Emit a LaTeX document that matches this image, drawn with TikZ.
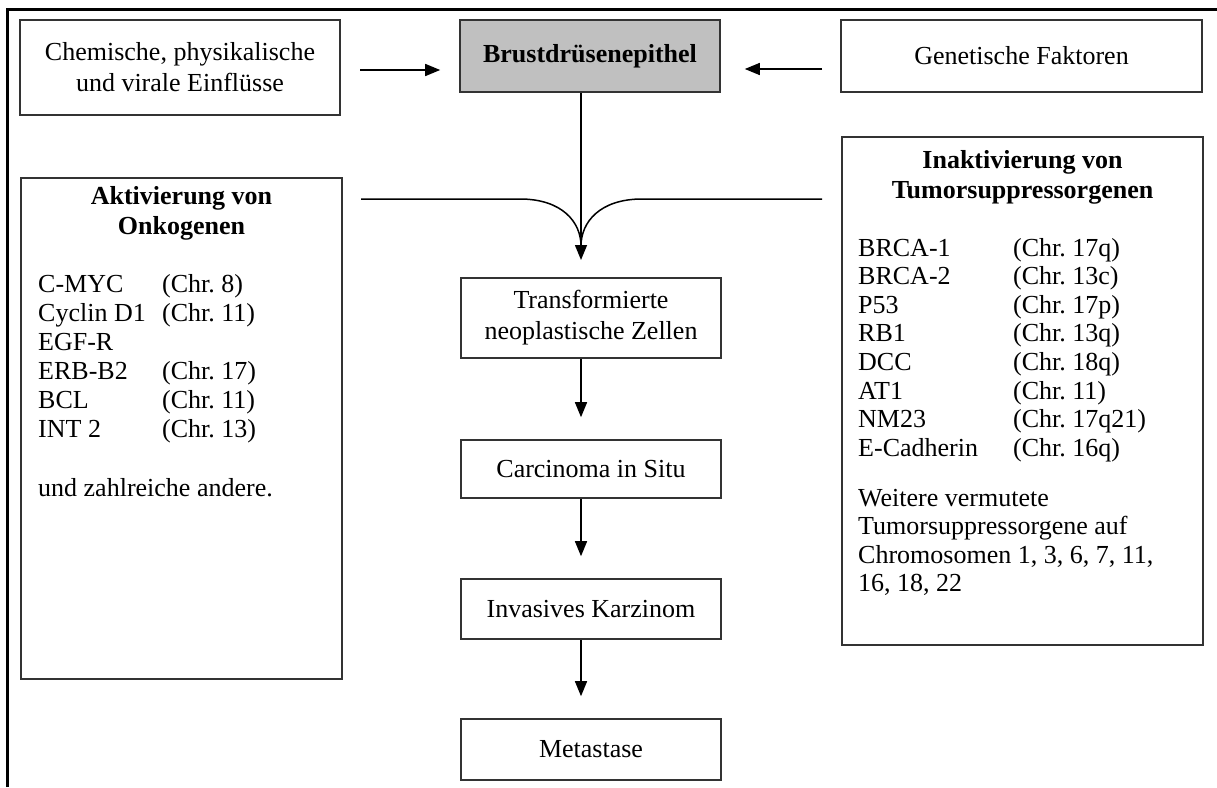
\documentclass[tikz,border=0pt]{standalone}
\usepackage{fontspec}
\setmainfont{Liberation Serif}
\usetikzlibrary{arrows.meta}
\definecolor{boxc}{HTML}{333333}
\definecolor{grayc}{HTML}{C0C0C0}
\frenchspacing
\begin{document}
\begin{tikzpicture}[x=1pt,y=-1pt,
  box/.style={draw=boxc,line width=1.6pt,inner sep=0pt,align=center,font=\fontsize{26}{31}\selectfont},
  arr/.style={line width=1.5pt,-{Triangle[length=15pt,width=12pt]}},
  link/.style={line width=1.5pt},
  txt/.style={inner sep=0pt,anchor=base west,font=\fontsize{26}{29}\selectfont},
  ttl/.style={inner sep=0pt,align=center,font=\fontsize{26}{30}\selectfont\bfseries}]
\useasboundingbox (0,0) rectangle (1217,787);
% outer frame
\draw[line width=3pt] (7,787) -- (7,9) -- (1217,9);
% top row
\node[box,minimum width=320pt,minimum height=95pt] (chem) at (180,67.5) {Chemische, physikalische\\und virale Einflüsse};
\node[box,fill=grayc,minimum width=260pt,minimum height=72pt,font=\fontsize{26}{31}\selectfont\bfseries] (epi) at (590,56) {Brustdrüsenepithel};
\node[box,minimum width=361pt,minimum height=72pt] (gen) at (1021.5,56) {Genetische Faktoren};
% side boxes
\node[box,minimum width=321pt,minimum height=501pt] (onko) at (181.5,428.5) {};
\node[box,minimum width=361pt,minimum height=508pt] (supp) at (1022.5,391) {};
% centre column
\node[box,minimum width=260pt,minimum height=80pt] (trans) at (591,318) {Transformierte\\neoplastische Zellen};
\node[box,minimum width=260pt,minimum height=58pt] (cis) at (591,469) {Carcinoma in Situ};
\node[box,minimum width=260pt,minimum height=60pt] (inv) at (591,609) {Invasives Karzinom};
\node[box,minimum width=260pt,minimum height=61pt] (meta) at (591,749.5) {Metastase};
% top arrows
\coordinate (a1s) at (360,70);
\draw[arr,shorten >=19pt] (a1s) -- (a1s -| epi.west);
\coordinate (a2s) at (822,69);
\draw[arr,shorten >=24pt] (a2s) -- (a2s -| epi.east);
% merging arrow
\coordinate (tip) at (581,260);
\draw[arr] (epi.south -| tip) -- (tip);
\coordinate (lc) at (361,199);
\coordinate (rc) at (822,199);
\draw[link] (lc) -- (520,199) .. controls (562,199) and (581,222) .. ([yshift=14pt]tip);
\draw[link] (rc) -- (642,199) .. controls (600,199) and (581,222) .. ([yshift=14pt]tip);
% centre arrows
\draw[arr] ([xshift=-10pt]trans.south) -- ([xshift=-10pt,yshift=22pt]cis.north);
\draw[arr] ([xshift=-10pt]cis.south) -- ([xshift=-10pt,yshift=22pt]inv.north);
\draw[arr] ([xshift=-10pt]inv.south) -- ([xshift=-10pt,yshift=22pt]meta.north);
% left box text
\node[ttl] (onkot) at (181.5,213) {Aktivierung von\\Onkogenen};
\foreach \gname/\gchr [count=\i] in {C-MYC/(Chr. 8),Cyclin D1/(Chr. 11),EGF-R/,ERB-B2/(Chr. 17),BCL/(Chr. 11),INT 2/(Chr. 13)}
  \node[txt] (ol\i) at (38,{292+29*(\i-1)}) {\makebox[124pt][l]{\gname}\gchr};
\node[txt] (oand) at (38,496) {und zahlreiche andere.};
% right box text
\node[ttl] (suppt) at (1022.5,177) {Inaktivierung von\\Tumorsuppressorgenen};
\foreach \gname/\gchr [count=\i] in {BRCA-1/(Chr. 17q),BRCA-2/(Chr. 13c),P53/(Chr. 17p),RB1/(Chr. 13q),DCC/(Chr. 18q),AT1/(Chr. 11),NM23/(Chr. 17q21),E-Cadherin/(Chr. 16q)}
  \node[txt] (sl\i) at (858,{256+28.6*(\i-1)}) {\makebox[155pt][l]{\gname}\gchr};
\node[txt] (sw1) at (858,506) {Weitere vermutete};
\node[txt] (sw2) at (858,534.6) {Tumorsuppressorgene auf};
\node[txt] (sw3) at (858,563.2) {Chromosomen 1, 3, 6, 7, 11,};
\node[txt] (sw4) at (858,591.8) {16, 18, 22};
\end{tikzpicture}
\end{document}
